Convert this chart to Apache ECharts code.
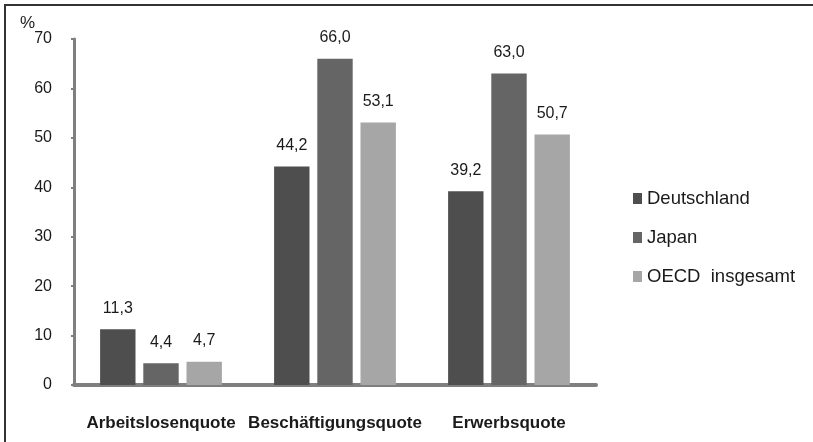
<!DOCTYPE html>
<html>
<head>
<meta charset="utf-8">
<script src="https://cdn.jsdelivr.net/npm/echarts@6/dist/echarts.min.js"></script>
<style>
  html, body { margin: 0; padding: 0; background: #fff; }
  #chart { width: 813px; height: 442px; }
</style>
</head>
<body>
<div id="chart"></div>
<script>
const categories = ['Arbeitslosenquote', 'Beschäftigungsquote', 'Erwerbsquote'];
const deutschland = [11.3, 44.2, 39.2];
const japan = [4.4, 66.0, 63.0];
const oecd = [4.7, 53.1, 50.7];
const seriesNames = ['Deutschland', 'Japan', 'OECD  insgesamt'];
const colors = ['#4e4e4e', '#656565', '#a6a6a6'];

const FONT = 'Liberation Sans, Arial, sans-serif';

const fmt = (p) => p.value.toFixed(1).replace('.', ',');

function barSeries(name, data, color) {
  return {
    name: name,
    type: 'bar',
    data: data,
    barGap: '22%',
    barCategoryGap: '30%',
    itemStyle: { color: color },
    label: {
      show: true,
      position: 'top',
      distance: 13,
      formatter: fmt,
      color: '#1a1a1a',
      fontSize: 16,
      fontFamily: FONT,
    },
  };
}

const chart = echarts.init(document.getElementById('chart'));
chart.setOption({
  animation: false,
  backgroundColor: '#fff',
  grid: { left: 74, right: 217, top: 39, bottom: 57 },
  legend: {
    orient: 'vertical',
    left: 628,
    top: 184,
    itemWidth: 9,
    itemHeight: 11,
    itemGap: 20,
    icon: 'rect',
    textStyle: { fontSize: 18.5, color: '#1a1a1a', fontFamily: FONT },
    data: seriesNames,
  },
  xAxis: {
    type: 'category',
    data: categories,
    axisLine: { lineStyle: { color: '#7f7f7f', width: 4 } },
    axisTick: { show: false },
    axisLabel: {
      interval: 0,
      margin: 30,
      fontSize: 17,
      fontWeight: 'bold',
      color: '#1a1a1a',
      fontFamily: FONT,
    },
  },
  yAxis: {
    type: 'value',
    min: 0,
    max: 70,
    interval: 10,
    splitLine: { show: false },
    axisLine: { show: true, lineStyle: { color: '#7f7f7f', width: 3 } },
    axisTick: { show: true, length: 3, lineStyle: { color: '#7f7f7f', width: 2 } },
    axisLabel: {
      margin: 22,
      fontSize: 16,
      color: '#1a1a1a',
      fontFamily: FONT,
    },
  },
  graphic: [
    { type: 'line', shape: { x1: 4, y1: 5, x2: 813, y2: 5 }, style: { stroke: '#333', lineWidth: 2 } },
    { type: 'line', shape: { x1: 5, y1: 4, x2: 5, y2: 442 }, style: { stroke: '#333', lineWidth: 2 } },
    { type: 'text', left: 20, top: 15, style: { text: '%', fontSize: 17, fill: '#1a1a1a', fontFamily: FONT } },
  ],
  series: [
    barSeries(seriesNames[0], deutschland, colors[0]),
    barSeries(seriesNames[1], japan, colors[1]),
    barSeries(seriesNames[2], oecd, colors[2]),
  ],
});
</script>
</body>
</html>
